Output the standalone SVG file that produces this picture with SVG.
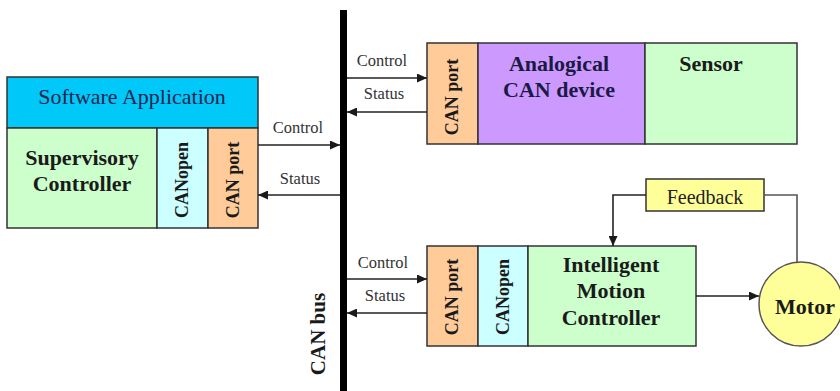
<svg xmlns="http://www.w3.org/2000/svg" width="840" height="391" viewBox="0 0 840 391">
<defs>
<marker id="ah" markerUnits="userSpaceOnUse" markerWidth="11" markerHeight="9" refX="10" refY="4.5" orient="auto">
<path d="M0,0 L10,4.5 L0,9 z" fill="#1a1a1a"/>
</marker>
<style>
.box{stroke:#333;stroke-width:1.5}
.conn{stroke:#222;stroke-width:1.6;fill:none}
.lbl{font-family:"Liberation Serif","Times New Roman",serif;font-size:16.5px;fill:#333;text-anchor:middle}
.b{font-family:"Liberation Serif","Times New Roman",serif;font-size:22px;font-weight:bold;fill:#1a1a1a;text-anchor:middle}
.v{font-family:"Liberation Serif","Times New Roman",serif;font-size:18px;font-weight:bold;fill:#1a1a1a;text-anchor:middle;dominant-baseline:central}
.r{font-family:"Liberation Serif","Times New Roman",serif;font-size:22px;fill:#1a2550;text-anchor:middle}
</style>
</defs>
<rect width="840" height="391" fill="#fff"/>

<g id="bus">
<rect x="340" y="10" width="7" height="381" fill="#000"/>
<text class="b" font-size="21" transform="translate(318,334) rotate(-90)" dominant-baseline="central" style="font-size:21px">CAN bus</text>
</g>

<g id="supervisor">
<rect class="box" x="7" y="77" width="251" height="51" fill="#00c8f8"/>
<text class="r" x="132" y="104">Software Application</text>
<rect class="box" x="7" y="128" width="150" height="100" fill="#ccffcc"/>
<text class="b" x="82" y="165">Supervisory</text>
<text class="b" x="82" y="191">Controller</text>
<rect class="box" x="157" y="128" width="51" height="100" fill="#ccffff"/>
<text class="v" transform="translate(182,180) rotate(-90)">CANopen</text>
<rect class="box" x="208" y="128" width="50" height="100" fill="#ffcc99"/>
<text class="v" transform="translate(233,180) rotate(-90)">CAN port</text>
</g>

<g id="analog-device">
<rect class="box" x="427" y="43" width="51" height="101" fill="#ffcc99"/>
<text class="v" transform="translate(452,97) rotate(-90)">CAN port</text>
<rect class="box" x="478" y="43" width="167" height="101" fill="#cc99ff"/>
<text class="b" x="559" y="71" style="fill:#1a1a44">Analogical</text>
<text class="b" x="559" y="97" style="fill:#1a1a44">CAN device</text>
<rect class="box" x="645" y="43" width="152" height="101" fill="#ccffcc"/>
<text class="b" x="711" y="71">Sensor</text>
</g>

<g id="motion-controller">
<rect class="box" x="427" y="246" width="51" height="100" fill="#ffcc99"/>
<text class="v" transform="translate(452,297) rotate(-90)">CAN port</text>
<rect class="box" x="478" y="246" width="50" height="100" fill="#ccffff"/>
<text class="v" transform="translate(503,297) rotate(-90)">CANopen</text>
<rect class="box" x="528" y="246" width="168" height="100" fill="#ccffcc"/>
<text class="b" x="611" y="272">Intelligent</text>
<text class="b" x="611" y="298">Motion</text>
<text class="b" x="611" y="325">Controller</text>
</g>

<g id="feedback">
<rect class="box" x="646" y="179" width="118" height="32" fill="#ffff99"/>
<text class="r" x="705" y="204" style="font-size:20px;fill:#222">Feedback</text>
</g>

<g id="motor">
<circle class="box" cx="801" cy="304" r="42" fill="#ffff99" style="stroke:#555"/>
<text class="b" x="805" y="306" style="dominant-baseline:central">Motor</text>
</g>

<g id="connectors">
<line class="conn" x1="258" y1="145" x2="340" y2="145" marker-end="url(#ah)"/>
<line class="conn" x1="340" y1="195" x2="258" y2="195" marker-end="url(#ah)"/>
<line class="conn" x1="347" y1="78" x2="427" y2="78" marker-end="url(#ah)"/>
<line class="conn" x1="427" y1="112" x2="347" y2="112" marker-end="url(#ah)"/>
<line class="conn" x1="347" y1="279" x2="427" y2="279" marker-end="url(#ah)"/>
<line class="conn" x1="427" y1="313" x2="347" y2="313" marker-end="url(#ah)"/>
<polyline class="conn" points="646,195 613,195 613,246" marker-end="url(#ah)"/>
<polyline class="conn" points="764,195 797,195 797,262" style="stroke:#555"/>
<line class="conn" x1="696" y1="296" x2="759" y2="296" marker-end="url(#ah)"/>
<text class="lbl" x="298" y="133">Control</text>
<text class="lbl" x="300" y="184">Status</text>
<text class="lbl" x="382" y="66">Control</text>
<text class="lbl" x="384" y="99">Status</text>
<text class="lbl" x="383" y="268">Control</text>
<text class="lbl" x="385" y="301">Status</text>
</g>
</svg>
